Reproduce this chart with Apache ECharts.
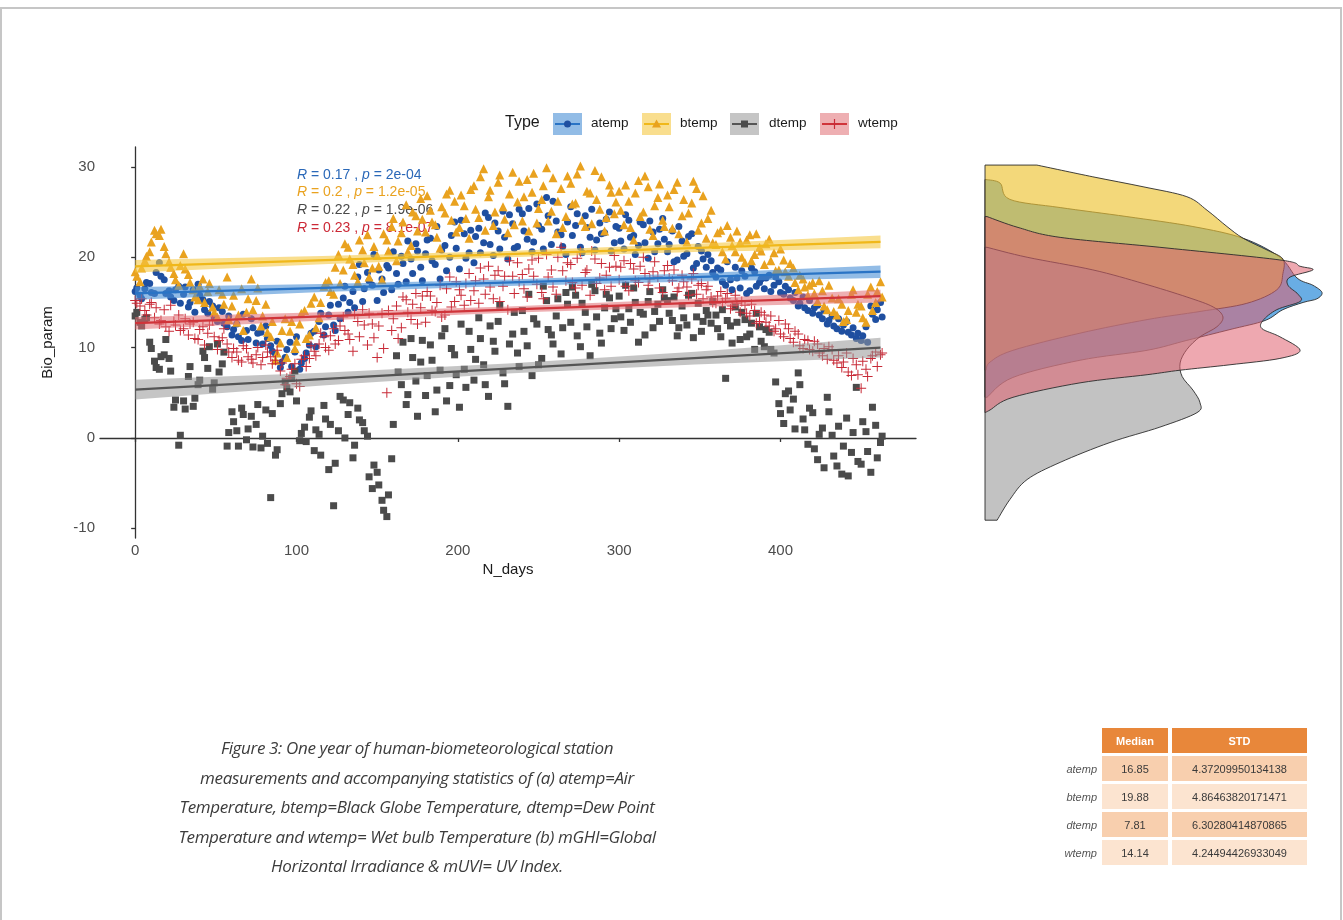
<!DOCTYPE html>
<html>
<head>
<meta charset="utf-8">
<script src="https://cdn.jsdelivr.net/npm/echarts@6/dist/echarts.min.js"></script>
<style>
  html, body { margin: 0; padding: 0; background: #fff; }
  #wrap { position: relative; width: 1343px; height: 920px; overflow: hidden; }
  #frame { position: absolute; left: 0; top: 7px; width: 1342px; height: 940px; border: 2px solid #c6c6c6; box-sizing: border-box; }
  #chart { position: absolute; left: 0; top: 0; width: 1343px; height: 920px; }
  #caption {
    position: absolute; left: 87px; top: 733px; width: 660px;
    font-family: "Open Sans", "DejaVu Sans", sans-serif; font-style: italic;
    font-size: 17px; letter-spacing: -0.35px; line-height: 29.5px; color: #3c3c3c; text-align: center;
  }
  #stats {
    position: absolute; left: 1048px; top: 725px;
    border-collapse: separate; border-spacing: 4px 3px;
    font-family: "Liberation Sans", Arial, sans-serif; font-size: 11px; color: #3a3a3a;
  }
  #stats td, #stats th { height: 25px; padding: 0; text-align: center; box-sizing: border-box; }
  #stats th { background: #e8873a; color: #fff; font-weight: bold; }
  #stats td.lab { width: 46px; text-align: right; font-style: italic; color: #555; padding-right: 1px; }
  #stats td.med { width: 66px; }
  #stats td.std { width: 135px; }
  #stats tr.odd td.med, #stats tr.odd td.std { background: #f8cfae; }
  #stats tr.even td.med, #stats tr.even td.std { background: #fce4d0; }
</style>
</head>
<body>
<div id="wrap">
  <div id="frame"></div>
  <div id="chart"></div>
  <div id="caption">Figure 3: One year of human-biometeorological station<br>measurements and accompanying statistics of (a) atemp=Air<br>Temperature, btemp=Black Globe Temperature, dtemp=Dew Point<br>Temperature and wtemp= Wet bulb Temperature (b) mGHI=Global<br>Horizontal Irradiance &amp; mUVI= UV Index.</div>
  <table id="stats"><tbody id="statsBody"></tbody></table>
</div>
<script>
// ---- data ----
const types = ['atemp', 'btemp', 'dtemp', 'wtemp'];

// observation days, two interleaved sets
const days = [
  0, 3, 6, 9, 12, 15, 18, 21, 24, 27,
  30, 33, 36, 39, 42, 45, 48, 51, 54, 57,
  60, 63, 66, 69, 72, 75, 78, 81, 84, 87,
  90, 93, 96, 99, 102, 105, 108, 111, 114, 117,
  120, 123, 126, 129, 132, 135, 138, 141, 144, 147,
  150, 153, 156, 159, 162, 165, 168, 171, 174, 177,
  180, 183, 186, 189, 192, 195, 198, 201, 204, 207,
  210, 213, 216, 219, 222, 225, 228, 231, 234, 237,
  240, 243, 246, 249, 252, 255, 258, 261, 264, 267,
  270, 273, 276, 279, 282, 285, 288, 291, 294, 297,
  300, 303, 306, 309, 312, 315, 318, 321, 324, 327,
  330, 333, 336, 339, 342, 345, 348, 351, 354, 357,
  360, 363, 366, 369, 372, 375, 378, 381, 384, 387,
  390, 393, 396, 399, 402, 405, 408, 411, 414, 417,
  420, 423, 426, 429, 432, 435, 438, 441, 444, 447,
  450, 453, 456, 459, 462
];
const days2 = [
  1, 4, 7, 10, 13, 16, 19, 22, 25, 28,
  31, 34, 37, 40, 43, 46, 49, 52, 55, 58,
  61, 64, 67, 70, 73, 76, 79, 82, 85, 88,
  91, 94, 97, 100, 103, 106, 109, 112, 115, 118,
  121, 124, 127, 130, 133, 136, 139, 142, 145, 148,
  151, 154, 157, 160, 163, 166, 169, 172, 175, 178,
  181, 184, 187, 190, 193, 196, 199, 202, 205, 208,
  211, 214, 217, 220, 223, 226, 229, 232, 235, 238,
  241, 244, 247, 250, 253, 256, 259, 262, 265, 268,
  271, 274, 277, 280, 283, 286, 289, 292, 295, 298,
  301, 304, 307, 310, 313, 316, 319, 322, 325, 328,
  331, 334, 337, 340, 343, 346, 349, 352, 355, 358,
  361, 364, 367, 370, 373, 376, 379, 382, 385, 388,
  391, 394, 397, 400, 403, 406, 409, 412, 415, 418,
  421, 424, 427, 430, 433, 436, 439, 442, 445, 448,
  451, 454, 457, 460, 463
];

const atemp = [
  16.2, 15.8, 16.5, 17.1, 16.0, 19.4, 17.5, 16.3, 15.2, 16.8,
  15.9, 14.5, 16.4, 17.0, 15.3, 13.8, 14.6, 12.9, 14.0, 12.3,
  11.4, 12.6, 10.8, 11.9, 13.2, 10.5, 11.7, 12.4, 10.2, 9.3,
  7.8, 8.9, 10.6, 9.5, 7.6, 8.8, 10.3, 11.8, 12.9, 11.4,
  13.6, 12.5, 14.8, 15.5, 13.9, 16.2, 17.8, 15.1, 18.3, 16.9,
  15.2, 17.6, 19.1, 16.4, 18.2, 20.1, 17.3, 19.8, 21.5, 18.9,
  20.4, 22.1, 19.2, 17.6, 21.3, 20.0, 23.9, 18.7, 22.6, 20.5,
  19.4, 23.2, 21.6, 24.4, 20.2, 22.9, 25.1, 19.8, 23.7, 21.2,
  24.8, 22.0, 20.6, 25.9, 23.1, 26.6, 21.4, 24.0, 22.5, 20.3,
  25.6, 23.5, 21.1, 24.6, 22.2, 20.8, 23.8, 22.7, 25.0, 21.6,
  23.2, 20.9, 24.1, 22.4, 21.3, 23.6, 19.9, 22.8, 21.5, 24.3,
  20.6, 22.9, 19.7, 21.8, 20.4, 22.6, 19.3, 20.7, 18.9, 19.6,
  17.8, 18.6, 16.9, 17.5, 18.9, 16.6, 17.9, 16.3, 18.4, 17.2,
  16.5, 18.0, 16.9, 17.3, 15.9, 16.4, 15.2, 14.6, 15.6, 14.1,
  13.8, 14.7, 13.2, 12.6, 13.5, 12.1, 11.8, 12.9, 11.4, 11.0,
  10.8, 12.3, 14.6, 13.1, 15.0
];
const atemp2 = [
  16.6, 15.4, 17.2, 16.1, 18.3, 17.9, 16.0, 15.6, 16.4, 14.9,
  16.7, 15.0, 13.9, 15.8, 14.2, 15.1, 13.3, 14.4, 12.7, 13.5,
  12.0, 11.2, 13.7, 10.9, 12.2, 11.6, 10.4, 11.0, 9.6, 10.7,
  8.4, 9.8, 7.9, 11.2, 8.3, 9.4, 11.6, 10.1, 13.8, 12.3,
  14.7, 11.9, 13.2, 16.8, 15.0, 14.4, 19.2, 16.5, 17.4, 20.3,
  18.6, 16.1, 18.8, 20.6, 17.0, 19.3, 21.8, 18.2, 20.7, 17.4,
  21.9, 19.6, 23.4, 20.8, 18.5, 22.4, 21.0, 24.1, 19.9, 23.0,
  22.3, 20.5, 24.9, 21.4, 23.8, 20.9, 22.2, 24.7, 21.0, 25.3,
  22.9, 25.4, 21.7, 23.5, 20.9, 24.6, 26.2, 22.8, 21.2, 23.9,
  22.4, 24.8, 20.5, 23.3, 25.3, 21.9, 22.6, 24.2, 20.7, 23.4,
  21.8, 24.7, 22.2, 20.3, 23.9, 21.6, 24.0, 20.6, 23.1, 22.0,
  21.4, 19.5, 23.4, 20.1, 22.3, 18.8, 21.2, 19.8, 20.3, 18.3,
  18.8, 17.3, 19.5, 16.4, 17.7, 18.5, 16.0, 18.8, 16.8, 17.6,
  17.7, 16.2, 17.8, 16.1, 16.8, 15.5, 16.1, 14.9, 14.4, 15.2,
  14.4, 13.6, 14.1, 13.0, 12.4, 13.2, 12.5, 11.7, 12.2, 11.6,
  11.3, 10.6, 13.7, 14.2, 13.4
];

const btemp = [
  18.4, 17.3, 19.6, 20.6, 23.0, 22.4, 21.2, 19.5, 18.2, 16.9,
  20.4, 18.1, 16.4, 15.3, 17.6, 16.2, 14.5, 13.4, 15.9, 17.8,
  14.6, 12.8, 16.5, 13.9, 17.6, 15.2, 12.4, 14.8, 11.2, 8.6,
  10.5, 13.2, 11.8, 9.9, 12.6, 14.1, 11.4, 15.6, 13.3, 16.8,
  17.4, 15.9, 20.3, 18.6, 21.1, 19.2, 17.3, 20.8, 22.5, 18.8,
  20.2, 17.5, 21.9, 23.4, 19.6, 22.7, 25.8, 21.3, 24.6, 26.5,
  22.8, 25.2, 23.6, 21.0, 24.9, 27.4, 26.2, 23.3, 25.7, 22.1,
  27.9, 24.4, 29.8, 26.7, 23.5, 28.3, 25.6, 22.7, 29.4, 26.1,
  24.0, 28.6, 27.2, 23.8, 26.4, 29.9, 25.1, 22.6, 27.6, 24.5,
  28.2, 26.0, 30.1, 23.4, 27.1, 29.6, 25.3, 22.9, 28.0, 24.8,
  27.3, 23.6, 26.2, 21.9, 28.5, 25.0, 27.8, 22.4, 26.6, 24.1,
  26.9, 23.2, 28.3, 24.6, 21.7, 26.0, 27.6, 23.8, 22.1, 25.2,
  21.4, 23.0, 19.8, 22.2, 20.6, 21.7, 19.4, 22.5, 20.3, 21.1,
  19.2, 22.0, 20.5, 18.6, 19.7, 17.9, 18.8, 16.4, 17.6, 15.8,
  17.2, 15.1, 16.3, 14.2, 15.5, 13.6, 14.8, 13.1, 15.9, 13.9,
  14.6, 12.8, 16.7, 15.0, 17.3
];
const btemp2 = [
  17.9, 18.8, 20.1, 21.7, 22.6, 23.1, 20.4, 18.9, 17.5, 19.1,
  18.7, 17.2, 15.6, 16.8, 15.0, 17.1, 13.9, 16.4, 14.8, 13.1,
  15.8, 13.6, 11.9, 15.4, 14.2, 16.6, 13.5, 11.7, 12.9, 9.4,
  11.9, 8.9, 12.9, 10.7, 13.8, 11.0, 14.9, 12.2, 15.0, 17.2,
  16.2, 18.9, 17.1, 21.5, 19.8, 18.0, 21.9, 19.4, 17.8, 21.2,
  19.0, 22.6, 20.7, 24.3, 21.8, 23.9, 20.6, 25.0, 22.9, 24.2,
  26.8, 23.9, 22.2, 25.6, 27.0, 24.1, 22.8, 26.9, 24.3, 27.5,
  25.3, 28.9, 23.0, 27.4, 25.0, 29.1, 24.2, 27.0, 23.6, 28.4,
  26.7, 22.9, 29.3, 25.4, 27.9, 24.0, 28.8, 26.2, 23.3, 29.0,
  25.9, 29.2, 24.1, 27.3, 23.7, 26.4, 28.9, 24.4, 27.2, 26.1,
  25.2, 28.0, 23.3, 27.1, 24.5, 29.0, 23.1, 25.7, 28.1, 23.4,
  25.6, 27.5, 22.6, 26.4, 24.9, 28.4, 23.0, 26.8, 24.3, 21.6,
  22.7, 20.6, 23.5, 21.3, 22.9, 20.0, 21.9, 19.6, 22.6, 20.7,
  21.5, 19.6, 18.5, 20.9, 18.4, 19.3, 17.2, 18.0, 16.7, 16.9,
  16.0, 17.4, 14.6, 16.9, 14.0, 15.4, 12.9, 14.1, 16.4, 14.8,
  13.3, 15.9, 14.1, 16.2, 15.6
];

const dtemp = [
  13.5, 12.8, 13.1, 10.6, 8.5, 7.6, 9.2, 8.8, 3.4, -0.8,
  4.1, 6.8, 3.5, 5.9, 9.6, 7.7, 5.4, 10.4, 8.2, -0.9,
  2.9, 0.8, 3.3, -0.2, 2.4, 1.5, -1.1, 3.1, -6.6, -1.9,
  3.8, 6.2, 5.1, 7.4, -0.3, 1.2, 2.3, -1.4, 0.4, 3.6,
  -3.5, -7.5, 0.8, 4.2, 2.6, -2.2, 3.3, 1.7, 0.2, -5.6,
  -3.8, -6.9, -8.7, -2.3, 9.1, 5.9, 3.7, 11.0, 6.3, 8.4,
  4.7, 10.3, 2.9, 7.5, 12.1, 5.8, 9.2, 3.4, 7.6, 11.8,
  6.4, 13.3, 8.1, 4.6, 10.7, 12.9, 7.2, 3.5, 11.5, 9.4,
  14.1, 10.2, 6.9, 12.6, 8.8, 15.2, 11.4, 13.5, 9.3, 16.1,
  12.8, 15.8, 10.1, 13.9, 9.1, 16.3, 11.6, 14.4, 15.5, 13.2,
  15.7, 11.9, 14.3, 16.6, 10.6, 13.7, 15.1, 12.2, 14.8, 16.4,
  15.2, 13.0, 11.3, 14.6, 12.5, 16.0, 13.4, 11.8, 14.1, 12.7,
  13.6, 11.2, 6.6, 12.4, 14.5, 10.9, 13.1, 11.5, 9.8, 12.3,
  10.1, 11.7, 9.4, 3.8, 1.6, 5.2, 4.3, 7.2, 2.1, -0.7,
  2.8, -2.4, 1.1, 4.5, 0.3, -3.1, -4.0, 2.2, -1.6, 5.6,
  -2.9, 0.7, -3.8, 1.4, -0.5
];
const dtemp2 = [
  13.9, 12.4, 13.3, 9.9, 7.8, 9.0, 10.9, 7.4, 4.2, 0.3,
  3.2, 7.9, 4.4, 6.4, 8.9, 10.1, 6.1, 7.3, 9.5, 0.6,
  1.8, -0.9, 2.6, 1.0, -1.0, 3.7, 0.2, -0.6, 2.7, -1.3,
  4.9, 5.5, 6.6, 4.1, 0.5, -0.4, 3.0, 0.9, -1.9, 2.1,
  1.5, -2.8, 4.6, 0.0, 3.9, -0.8, 2.0, 0.8, -4.3, -3.0,
  -5.2, -8.0, -6.3, 1.5, 7.3, 10.6, 4.8, 8.9, 2.4, 10.8,
  6.9, 8.6, 5.3, 11.3, 4.1, 9.9, 7.0, 12.6, 5.6, 9.8,
  8.7, 11.0, 5.9, 12.4, 9.6, 14.7, 6.0, 10.4, 13.9, 7.9,
  11.8, 15.9, 13.2, 8.1, 16.8, 12.0, 10.4, 15.4, 12.2, 14.8,
  16.7, 11.3, 14.9, 12.3, 17.0, 13.4, 10.5, 15.9, 12.1, 14.3,
  13.4, 16.9, 12.8, 15.0, 13.9, 11.4, 16.2, 14.0, 12.9, 15.5,
  13.8, 15.6, 12.2, 13.3, 15.8, 11.1, 14.9, 12.9, 13.6, 15.1,
  12.1, 14.2, 13.0, 10.5, 12.8, 13.9, 11.2, 12.7, 13.8, 10.7,
  12.0, 9.8, 6.2, 2.7, 4.9, 3.1, 1.0, 5.9, 0.9, 3.3,
  -1.2, 0.4, -3.3, 2.9, -2.0, 1.3, -0.9, -4.2, 0.6, -2.6,
  1.8, -1.5, 3.4, -2.2, 0.2
];

const wtemp = [
  15.2, 14.6, 14.1, 14.8, 13.3, 12.6, 14.2, 11.8, 12.9, 13.6,
  12.1, 11.4, 12.8, 10.9, 12.3, 11.6, 13.0, 9.8, 11.1, 10.4,
  8.9, 9.5, 8.4, 9.9, 8.7, 9.2, 8.1, 10.3, 9.0, 8.6,
  7.4, 5.9, 6.8, 8.2, 5.7, 9.1, 8.8, 9.6, 10.4, 11.2,
  9.7, 12.1, 10.8, 13.4, 11.5, 9.6, 12.9, 14.2, 10.3, 12.6,
  8.9, 13.8, 5.0, 11.9, 14.6, 12.2, 15.3, 13.1, 16.0, 14.4,
  12.8, 15.7, 14.0, 16.9, 13.6, 17.8, 15.1, 16.4, 14.7, 18.2,
  16.3, 14.9, 17.6, 19.0, 15.4, 18.5, 16.8, 14.2, 17.9, 19.4,
  18.1, 15.6, 19.7, 17.0, 16.1, 20.3, 18.6, 15.9, 21.1, 17.4,
  19.2, 16.6, 20.6, 18.3, 15.8, 19.8, 17.7, 16.4, 18.9, 20.2,
  17.5, 19.6, 16.3, 18.7, 17.2, 20.0, 16.9, 18.4, 17.8, 16.1,
  19.1, 17.4, 16.2, 18.0, 16.7, 17.6, 15.9, 17.1, 16.4, 15.6,
  14.9, 16.2, 15.4, 14.3, 15.8, 13.9, 14.7, 13.5, 14.1, 12.9,
  13.6, 12.4, 11.8, 13.0, 11.2, 12.1, 10.6, 11.5, 9.9, 10.8,
  9.6, 10.4, 9.1, 8.7, 9.8, 8.3, 7.8, 9.4, 6.9, 8.1,
  5.5, 7.6, 8.8, 9.5, 9.2
];
const wtemp2 = [
  14.9, 15.4, 13.6, 15.0, 14.4, 13.0, 12.3, 14.7, 12.5, 11.9,
  13.2, 12.6, 11.0, 12.0, 10.3, 12.5, 11.2, 10.8, 12.1, 9.5,
  9.9, 8.6, 10.2, 9.0, 8.3, 10.0, 8.9, 9.5, 8.2, 9.7,
  8.3, 6.6, 7.6, 6.0, 8.7, 7.9, 10.2, 9.1, 11.6, 10.0,
  11.3, 10.4, 12.4, 11.9, 10.9, 13.7, 11.2, 12.5, 13.8, 11.1,
  12.4, 9.9, 14.1, 13.2, 11.0, 15.6, 13.9, 14.8, 12.6, 15.7,
  16.2, 14.1, 15.0, 13.4, 16.5, 14.5, 17.3, 15.8, 17.1, 15.2,
  17.4, 18.8, 15.9, 16.7, 18.0, 15.1, 17.9, 19.6, 16.0, 17.3,
  16.5, 18.7, 17.9, 19.9, 15.4, 17.8, 16.7, 20.0, 18.5, 19.4,
  17.2, 19.9, 16.9, 18.6, 20.7, 17.1, 19.3, 18.0, 16.8, 19.0,
  18.9, 16.8, 19.3, 17.4, 19.0, 18.2, 17.6, 19.5, 16.6, 18.5,
  17.7, 18.6, 16.6, 17.3, 15.8, 18.2, 16.9, 15.4, 16.8, 15.0,
  15.7, 15.0, 16.0, 14.6, 14.9, 15.1, 13.8, 14.8, 12.7, 13.9,
  12.8, 13.5, 12.1, 11.5, 12.6, 11.0, 11.8, 10.2, 10.9, 9.8,
  10.7, 9.4, 9.9, 10.1, 8.6, 9.1, 8.4, 7.3, 8.8, 7.0,
  8.5, 6.8, 9.1, 7.9, 9.4
];

// linear fits (end points) and confidence bands
const fitDays = [0, 462];
const atempFit = [16.0, 18.4];
const btempFit = [19.0, 21.7];
const dtempFit = [5.35, 10.0];
const wtempFit = [12.7, 15.7];

const bandDays = [0, 116, 231, 347, 462];
const atempLo = [15.3, 16.14, 16.83, 17.32, 17.7];
const atempHi = [16.7, 17.04, 17.53, 18.22, 19.1];
const btempLo = [18.3, 19.23, 20.0, 20.58, 21.0];
const btempHi = [19.7, 20.13, 20.7, 21.48, 22.4];
const dtempLo = [4.25, 5.81, 7.13, 8.14, 8.9];
const dtempHi = [6.45, 7.21, 8.23, 9.54, 11.1];
const wtempLo = [12.0, 13.0, 13.85, 14.5, 15.0];
const wtempHi = [13.4, 13.9, 14.55, 15.4, 16.4];

const corR = ['0.17', '0.2', '0.22', '0.23'];
const corP = ['2e-04', '1.2e-05', '1.9e-06', '8.1e-07'];

// marginal densities: value (Bio_param) and density
const atempDensV = [28.6, 28.2, 26.4, 25.5, 24.5, 23.4, 22.1, 20.0, 17.7, 16.9, 16.1, 15.4, 15.0, 14.2, 13.0, 12.0, 10.8, 9.7, 8.6, 6.7, 4.5];
const atempDensD = [0.0003, 0.0045, 0.0074, 0.0223, 0.0421, 0.0617, 0.0766, 0.0875, 0.0926, 0.0973, 0.1000, 0.0985, 0.0944, 0.0884, 0.0831, 0.0727, 0.0599, 0.0481, 0.0282, 0.0083, 0.0006];
const btempDensV = [30.2, 28.9, 27.8, 26.7, 25.2, 23.4, 22.1, 20.8, 19.8, 18.2, 16.4, 14.9, 14.0, 13.1, 11.6, 9.7, 8.4, 7.5];
const btempDensD = [0.0154, 0.0320, 0.0469, 0.0599, 0.0659, 0.0718, 0.0766, 0.0837, 0.0884, 0.0884, 0.0866, 0.0777, 0.0638, 0.0481, 0.0282, 0.0083, 0.0015, 0.0003];
const dtempDensV = [21.1, 20.0, 18.6, 17.1, 15.6, 14.5, 13.4, 12.3, 11.2, 9.8, 8.3, 6.8, 5.3, 3.9, 2.8, 1.2, -0.5, -2.7, -4.6, -6.8, -9.1];
const dtempDensD = [0.0006, 0.0125, 0.0320, 0.0469, 0.0599, 0.0677, 0.0706, 0.0688, 0.0638, 0.0599, 0.0579, 0.0585, 0.0617, 0.0638, 0.0629, 0.0519, 0.0371, 0.0223, 0.0125, 0.0074, 0.0036];
const wtempDensV = [24.5, 23.3, 22.2, 21.1, 19.7, 19.0, 18.6, 17.8, 16.9, 15.9, 15.1, 14.2, 13.0, 12.1, 11.2, 9.7, 8.8, 8.1, 7.5, 7.0, 6.1, 4.5, 3.1, 2.8];
const wtempDensD = [0.0006, 0.0098, 0.0223, 0.0519, 0.0875, 0.0935, 0.0973, 0.0905, 0.0899, 0.0929, 0.0935, 0.0866, 0.0825, 0.0822, 0.0875, 0.0935, 0.0875, 0.0727, 0.0579, 0.0481, 0.0282, 0.0083, 0.0015, 0.0];

const xTicks = [0, 100, 200, 300, 400];
const yTicks = [-10, 0, 10, 20, 30];

// summary table
const statMedian = ['16.85', '19.88', '7.81', '14.14'];
const statStd = ['4.37209950134138', '4.86463820171471', '6.30280414870865', '4.24494426933049'];

// ---- styles ----
const pointColor = { atemp: '#1f4fa0', btemp: '#e9a21f', dtemp: '#4b4b4b', wtemp: '#c82a37' };
const lineColor = { atemp: '#2a74c5', btemp: '#f0b81a', dtemp: '#555555', wtemp: '#d0343a' };
const textColor = { atemp: '#2a68b8', btemp: '#e9a21f', dtemp: '#4a4a4a', wtemp: '#cc2936' };
const bandColor = { atemp: 'rgba(74,144,214,0.6)', btemp: 'rgba(245,200,66,0.6)', dtemp: 'rgba(150,150,150,0.55)', wtemp: 'rgba(224,110,115,0.55)' };
const densColor = { atemp: 'rgba(42,138,216,0.7)', btemp: 'rgba(236,195,50,0.65)', dtemp: 'rgba(154,154,154,0.6)', wtemp: 'rgba(224,96,112,0.55)' };
const symbols = { atemp: 'circle', btemp: 'triangle', dtemp: 'rect', wtemp: 'path://M9,0H11V9H20V11H11V20H9V11H0V9H9Z' };
const symbolSizes = { atemp: 7, btemp: 9, dtemp: 7, wtemp: 10 };

const values = { atemp, btemp, dtemp, wtemp };
const values2 = { atemp: atemp2, btemp: btemp2, dtemp: dtemp2, wtemp: wtemp2 };
const fits = { atemp: atempFit, btemp: btempFit, dtemp: dtempFit, wtemp: wtempFit };
const bands = {
  atemp: [atempLo, atempHi], btemp: [btempLo, btempHi],
  dtemp: [dtempLo, dtempHi], wtemp: [wtempLo, wtempHi]
};
const dens = {
  atemp: [atempDensV, atempDensD], btemp: [btempDensV, btempDensD],
  dtemp: [dtempDensV, dtempDensD], wtemp: [wtempDensV, wtempDensD]
};

const FONT = '"Liberation Sans", Arial, sans-serif';

function bandRenderer(lo, hi, fill) {
  return (params, api) => {
    if (params.dataIndex !== 0) return null;
    const pts = [];
    bandDays.forEach((d, i) => pts.push(api.coord([d, hi[i]])));
    for (let i = bandDays.length - 1; i >= 0; i--) pts.push(api.coord([bandDays[i], lo[i]]));
    return { type: 'polygon', shape: { points: pts }, style: { fill: fill, stroke: null } };
  };
}

function smoothPath(pts) {
  let d = '';
  for (let i = 0; i < pts.length - 1; i++) {
    const p0 = pts[i - 1] || pts[i], p1 = pts[i], p2 = pts[i + 1], p3 = pts[i + 2] || p2;
    const c1 = [p1[0] + (p2[0] - p0[0]) / 6, p1[1] + (p2[1] - p0[1]) / 6];
    const c2 = [p2[0] - (p3[0] - p1[0]) / 6, p2[1] - (p3[1] - p1[1]) / 6];
    d += 'C' + c1.join(',') + ',' + c2.join(',') + ',' + p2.join(',');
  }
  return d;
}

function densRenderer(vs, ds, fill) {
  return (params, api) => {
    if (params.dataIndex !== 0) return null;
    const pts = vs.map((v, i) => api.coord([ds[i], v]));
    const top = api.coord([0, vs[0]]);
    const bot = api.coord([0, vs[vs.length - 1]]);
    const path = 'M' + top.join(',') + 'L' + pts[0].join(',') + smoothPath(pts) +
      'L' + bot.join(',') + 'Z';
    return { type: 'path', shape: { pathData: path }, style: { fill: fill, stroke: '#2b2b2b', lineWidth: 0.9 } };
  };
}

const series = [];
types.forEach(t => {
  const pts = days.map((d, i) => [d, values[t][i]])
    .concat(days2.map((d, i) => [d, values2[t][i]]));
  series.push({
    name: t, type: 'scatter', xAxisIndex: 0, yAxisIndex: 0,
    symbol: symbols[t], symbolSize: symbolSizes[t],
    itemStyle: { color: pointColor[t], opacity: 1 },
    data: pts, z: 2, silent: true, large: false
  });
});
types.forEach(t => {
  series.push({
    type: 'custom', xAxisIndex: 0, yAxisIndex: 0, z: 3, silent: true,
    renderItem: bandRenderer(bands[t][0], bands[t][1], bandColor[t]),
    data: bandDays.map((d, i) => [d, bands[t][0][i], bands[t][1][i]])
  });
});
types.forEach(t => {
  series.push({
    type: 'line', xAxisIndex: 0, yAxisIndex: 0, z: 4, silent: true,
    showSymbol: false, lineStyle: { color: lineColor[t], width: 2.2 },
    data: fitDays.map((d, i) => [d, fits[t][i]])
  });
});
types.forEach(t => {
  series.push({
    type: 'custom', xAxisIndex: 1, yAxisIndex: 1, z: 2, silent: true, clip: false,
    renderItem: densRenderer(dens[t][0], dens[t][1], densColor[t]),
    data: dens[t][0].map((v, i) => [dens[t][1][i], v])
  });
});

// legend drawn as graphic keys
const legendX = [553, 642, 730, 820];
const legendTextX = [591, 680, 769, 858];
const legendY = 124;
const graphics = [{
  type: 'text', left: 505, top: legendY - 9,
  style: { text: 'Type', font: '16px ' + FONT, fill: '#1a1a1a' }
}];
types.forEach((t, i) => {
  const x = legendX[i], cx = x + 14.5;
  graphics.push({ type: 'rect', shape: { x: x, y: legendY - 11, width: 29, height: 22 }, style: { fill: bandColor[t] } });
  graphics.push({ type: 'line', shape: { x1: x + 2, y1: legendY, x2: x + 27, y2: legendY }, style: { stroke: lineColor[t], lineWidth: 2 } });
  if (t === 'atemp') graphics.push({ type: 'circle', shape: { cx: cx, cy: legendY, r: 3.5 }, style: { fill: pointColor[t] } });
  if (t === 'btemp') graphics.push({ type: 'polygon', shape: { points: [[cx, legendY - 4.5], [cx + 4.5, legendY + 3.5], [cx - 4.5, legendY + 3.5]] }, style: { fill: pointColor[t] } });
  if (t === 'dtemp') graphics.push({ type: 'rect', shape: { x: cx - 3.5, y: legendY - 3.5, width: 7, height: 7 }, style: { fill: pointColor[t] } });
  if (t === 'wtemp') {
    graphics.push({ type: 'line', shape: { x1: cx - 5, y1: legendY, x2: cx + 5, y2: legendY }, style: { stroke: pointColor[t], lineWidth: 1.2 } });
    graphics.push({ type: 'line', shape: { x1: cx, y1: legendY - 5, x2: cx, y2: legendY + 5 }, style: { stroke: pointColor[t], lineWidth: 1.2 } });
  }
  graphics.push({ type: 'text', left: legendTextX[i], top: legendY - 8, style: { text: t, font: '13.5px ' + FONT, fill: '#1a1a1a' } });
});

// correlation annotations
const corY = [176, 193.5, 211, 229];
types.forEach((t, i) => {
  graphics.push({
    type: 'text', left: 297, top: corY[i] - 8, z: 1,
    style: {
      text: '{i|R} = ' + corR[i] + ' , {i|p} = ' + corP[i],
      font: '14px ' + FONT, fill: textColor[t],
      rich: { i: { fontStyle: 'italic', fontSize: 14, fontFamily: FONT } }
    }
  });
});

const chart = echarts.init(document.getElementById('chart'), null, { renderer: 'canvas' });
const axisCommon = {
  axisLine: { show: true, lineStyle: { color: '#333', width: 1.3 } },
  axisTick: { show: true, length: 4, lineStyle: { color: '#333', width: 1.3 } },
  splitLine: { show: false },
  axisLabel: { color: '#4d4d4d', fontSize: 15, fontFamily: FONT, margin: 5 },
  nameTextStyle: { color: '#1a1a1a', fontSize: 15, fontFamily: FONT }
};

chart.setOption({
  animation: false,
  backgroundColor: 'transparent',
  grid: [
    { left: 100, top: 147, width: 816, height: 391 },
    { left: 985, top: 147, width: 337, height: 391 }
  ],
  xAxis: [
    Object.assign({}, axisCommon, {
      gridIndex: 0, type: 'value', min: -21.8, max: 484,
      name: 'N_days', nameLocation: 'middle', nameGap: 24,
      axisTick: Object.assign({}, axisCommon.axisTick, { customValues: xTicks }),
      axisLabel: Object.assign({}, axisCommon.axisLabel, { customValues: xTicks })
    }),
    { gridIndex: 1, type: 'value', min: 0, max: 0.1, show: false }
  ],
  yAxis: [
    Object.assign({}, axisCommon, {
      gridIndex: 0, type: 'value', min: -11.07, max: 32.2,
      name: 'Bio_param', nameLocation: 'middle', nameGap: 45, nameRotate: 90,
      axisTick: Object.assign({}, axisCommon.axisTick, { customValues: yTicks }),
      axisLabel: Object.assign({}, axisCommon.axisLabel, { customValues: yTicks })
    }),
    { gridIndex: 1, type: 'value', min: -11.07, max: 32.2, show: false }
  ],
  graphic: { elements: graphics },
  series: series
});

// statistics table
document.getElementById('statsBody').innerHTML =
  '<tr><td class="lab"></td><th class="med">Median</th><th class="std">STD</th></tr>' +
  types.map((t, i) => `
    <tr class="${i % 2 === 0 ? 'odd' : 'even'}">
      <td class="lab">${t}</td>
      <td class="med">${statMedian[i]}</td>
      <td class="std">${statStd[i]}</td>
    </tr>`).join('');
</script>
</body>
</html>
